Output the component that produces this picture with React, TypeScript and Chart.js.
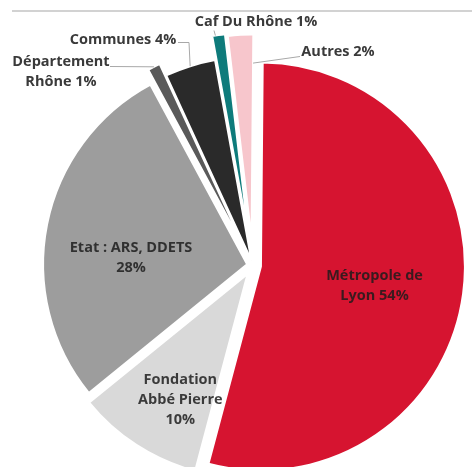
import React, { useEffect, useRef } from "react";
import { Chart, registerables } from "chart.js";

Chart.register(...registerables);

// ---- data ----
const categories = [
  "Métropole de Lyon",
  "Fondation Abbé Pierre",
  "Etat : ARS, DDETS",
  "Département Rhône",
  "Communes",
  "Caf Du Rhône",
  "Autres",
];
const shares = [54, 10, 28, 1, 4, 1, 2];
// label wording split into lines; the share is appended to the last line
const labelLines = [
  ["Métropole de", "Lyon"],
  ["Fondation", "Abbé Pierre", ""],
  ["Etat : ARS, DDETS", ""],
  ["Département", "Rhône"],
  ["Communes"],
  ["Caf Du Rhône"],
  ["Autres"],
];

// ---- styles ----
const sliceColors = ["#D61430", "#D9D9D9", "#9D9D9D", "#5A5A5A", "#2A2A2A", "#0E7B7B", "#F7C6CC"];
const explode = [8, 10, 6, 18, 5, 29, 27];

function labelText(i: number): string[] {
  const lines = labelLines[i].slice();
  const last = lines.length - 1;
  lines[last] = (lines[last] ? lines[last] + " " : "") + shares[i] + "%";
  return lines;
}

type Placement =
  | { kind: "in"; r: number; da: number }
  | { kind: "out"; text: [number, number]; from: { f: number; r: number }; path: [number, number][] };

const placements: Placement[] = [
  { kind: "in", r: 0.565, da: 2 },
  { kind: "in", r: 0.7, da: -4.8 },
  { kind: "in", r: 0.57, da: -8.2 },
  { kind: "out", text: [-192, -193.5], from: { f: 0.5, r: 1 }, path: [[-143, -199]] },
  { kind: "out", text: [-130, -226], from: { f: 0.5, r: 1 }, path: [[-64, -223], [-75, -223]] },
  { kind: "out", text: [3, -244], from: { f: 0.25, r: 1 }, path: [[-39, -235]] },
  { kind: "out", text: [85, -214], from: { f: 1, r: 0.86 }, path: [[47, -209]] },
];

const explodedPiePlugin = {
  id: "explodedPieDraw",
  beforeDatasetDraw(chart: any, args: any) {
    const ctx = chart.ctx;
    args.meta.data.forEach((arc: any, i: number) => {
      const half = (arc.startAngle + arc.endAngle) / 2;
      const e = explode[i] || 0;
      ctx.save();
      ctx.translate(Math.cos(half) * e, Math.sin(half) * e);
      arc.draw(ctx);
      ctx.restore();
    });
    return false;
  },
  afterDatasetsDraw(chart: any) {
    const ctx = chart.ctx;
    const arcs = chart.getDatasetMeta(0).data;
    ctx.save();
    ctx.font = 'bold 14.5px "Open Sans"';
    ctx.textAlign = "center";
    ctx.textBaseline = "middle";
    arcs.forEach((arc: any, i: number) => {
      const p = placements[i];
      const half = (arc.startAngle + arc.endAngle) / 2;
      const e = explode[i] || 0;
      const ax = arc.x + Math.cos(half) * e;
      const ay = arc.y + Math.sin(half) * e;
      const R = arc.outerRadius;
      const lines = labelText(i);
      let cx: number;
      let cy: number;
      if (p.kind === "in") {
        const a = half + (p.da * Math.PI) / 180;
        cx = ax + Math.cos(a) * R * p.r;
        cy = ay + Math.sin(a) * R * p.r;
        ctx.fillStyle = "rgba(28,28,28,0.84)";
      } else {
        const a0 = arc.startAngle + (arc.endAngle - arc.startAngle) * p.from.f;
        const sx = ax + Math.cos(a0) * R * p.from.r;
        const sy = ay + Math.sin(a0) * R * p.from.r;
        ctx.beginPath();
        ctx.moveTo(sx, sy);
        p.path.forEach(([dx, dy]) => ctx.lineTo(arc.x + dx, arc.y + dy));
        ctx.strokeStyle = "#A8A8A8";
        ctx.lineWidth = 1;
        ctx.stroke();
        cx = arc.x + p.text[0];
        cy = arc.y + p.text[1];
        ctx.fillStyle = "#3A3A3A";
      }
      lines.forEach((t, k) => ctx.fillText(t, cx, cy + (k - (lines.length - 1) / 2) * 20));
    });
    ctx.restore();
  },
};

export default function App() {
  const canvasRef = useRef<HTMLCanvasElement | null>(null);

  useEffect(() => {
    if (!canvasRef.current) return;
    const chart = new Chart(canvasRef.current, {
      type: "pie",
      data: {
        labels: categories,
        datasets: [
          {
            data: shares,
            backgroundColor: sliceColors,
            borderColor: "#ffffff",
            borderWidth: 2,
            radius: 204,
            rotation: 0.5,
            clip: false,
          } as any,
        ],
      },
      options: {
        animation: false,
        responsive: true,
        maintainAspectRatio: false,
        events: [],
        layout: { padding: { left: 34, right: 0, top: 64, bottom: 0 } },
        plugins: {
          legend: { display: false },
          tooltip: { enabled: false },
        },
      } as any,
      plugins: [explodedPiePlugin as any],
    });
    return () => chart.destroy();
  }, []);

  return (
    <div
      style={{
        position: "fixed",
        left: 0,
        top: 0,
        width: 472,
        height: 467,
        background: "#ffffff",
        overflow: "hidden",
      }}
    >
      <div
        style={{
          position: "absolute",
          left: 12,
          right: 0,
          top: 10,
          height: 2,
          background: "#D2D2D2",
        }}
      />
      <canvas ref={canvasRef} />
    </div>
  );
}
